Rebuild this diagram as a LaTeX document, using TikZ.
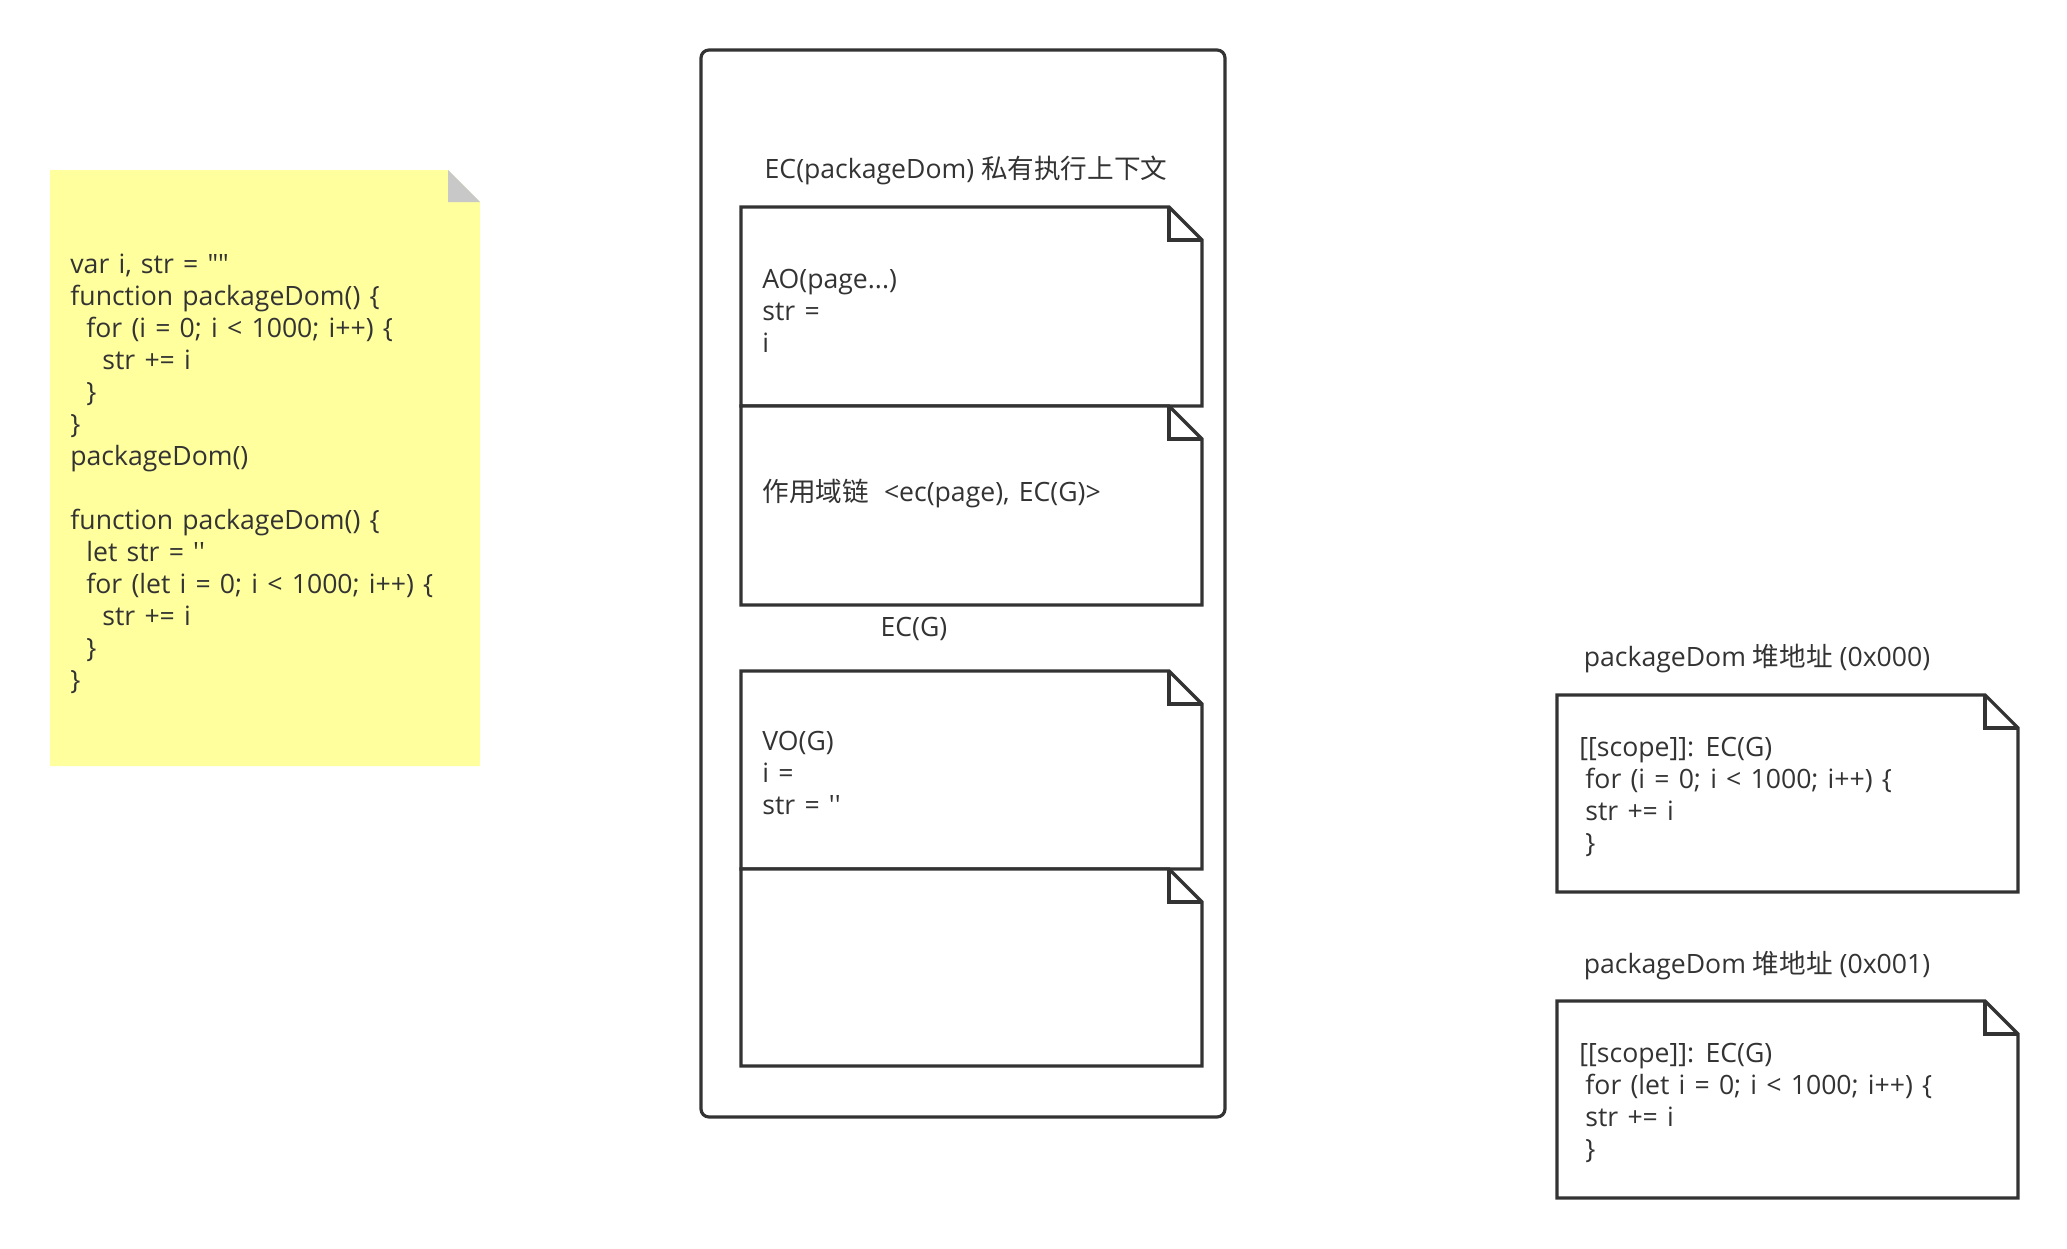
\documentclass[tikz,border=0pt]{standalone}
\usepackage{fontspec}
\newfontfamily\cjk{Noto Sans CJK SC}
\newfontfamily\lat{Open Sans}
\definecolor{ink}{HTML}{333333}
\definecolor{notey}{HTML}{FFFF9E}
\definecolor{foldg}{HTML}{C8C8C8}
\newcommand\notebox[4]{%
  \draw[frame, fill=white] (#1,#2) -- ({#3-33},#2) -- (#3,{#2+33}) -- (#3,#4) -- (#1,#4) -- cycle;
  \draw[frame] ({#3-33},#2) -- ({#3-33},{#2+33}) -- (#3,{#2+33});}
\newcommand\ind[1]{\hspace*{#1}}
\newcommand\zh[1]{{\cjk #1}}
\newcommand\codefont{\lat\fontsize{13.3}{16}\selectfont\spaceskip 4.6pt plus 1pt minus 0.5pt\relax}
\begin{document}
\begin{tikzpicture}[x=0.5pt,y=-0.5pt,
  frame/.style={draw=ink, line width=1.6pt, line join=miter},
  txt/.style={font=\codefont, text=ink, inner sep=0pt, align=left, anchor=west},
  lbl/.style={font=\lat\fontsize{13.3}{16}\selectfont, text=ink, inner sep=0pt}]
\useasboundingbox (0,0) rectangle (2067,1248);
% yellow sticky note
\fill[notey] (50,170) -- (448,170) -- (480,202) -- (480,766) -- (50,766) -- cycle;
\fill[foldg] (448,170) -- (448,202) -- (480,202) -- cycle;
\node[txt] (code) at (70,474) {var i, str = ""\\
function packageDom() \{\\
\ind{8pt}for (i = 0; i < 1000; i++) \{\\
\ind{16pt}str += i\\
\ind{8pt}\}\\
\}\\
packageDom()\\
\mbox{}\\
function packageDom() \{\\
\ind{8pt}let str = ''\\
\ind{8pt}for (let i = 0; i < 1000; i++) \{\\
\ind{16pt}str += i\\
\ind{8pt}\}\\
\}};
% container
\draw[frame, rounded corners=4pt] (701,50) rectangle (1225,1117);
\node[lbl] (ectitle) at (966,170) {EC(packageDom) \zh{私有执行上下文}};
\notebox{741}{207}{1202}{406}
\notebox{741}{406}{1202}{605}
\node[lbl] (ecg) at (914,629) {EC(G)};
\notebox{741}{671}{1202}{869}
\notebox{741}{869}{1202}{1066}
\node[txt] (ao) at (762,311) {AO(page...)\\str =\\i};
\node[txt] (chain) at (762,493) {\zh{作用域链}\hspace{3pt} <ec(page), EC(G)>};
\node[txt] (vo) at (762,773) {VO(G)\\i =\\str = ''};
% heap objects
\node[lbl] (heapa) at (1757,659) {packageDom \zh{堆地址} (0x000)};
\notebox{1557}{695}{2018}{892}
\node[txt] (codea) at (1579,797) {[[scope]]: EC(G)\\
\ind{3pt}for (i = 0; i < 1000; i++) \{\\
\ind{3pt}str += i\\
\ind{3pt}\}};
\node[lbl] (heapb) at (1757,966) {packageDom \zh{堆地址} (0x001)};
\notebox{1557}{1001}{2018}{1198}
\node[txt] (codeb) at (1579,1103) {[[scope]]: EC(G)\\
\ind{3pt}for (let i = 0; i < 1000; i++) \{\\
\ind{3pt}str += i\\
\ind{3pt}\}};
\end{tikzpicture}
\end{document}
